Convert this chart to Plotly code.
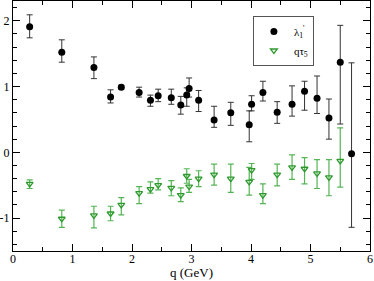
import plotly.graph_objects as go

# q values (GeV)
q_lam = [0.28, 0.82, 1.36, 1.64, 1.82, 2.12, 2.31, 2.44, 2.66, 2.82, 2.92, 2.96, 3.12,
         3.38, 3.66, 3.97, 4.01, 4.20, 4.44, 4.69, 4.90, 5.11, 5.31, 5.50, 5.69]
lam_val = [1.91, 1.52, 1.29, 0.84, 0.99, 0.91, 0.79, 0.86, 0.83, 0.72, 0.87, 0.97, 0.79,
           0.49, 0.60, 0.42, 0.73, 0.91, 0.61, 0.73, 0.93, 0.82, 0.52, 1.37, -0.02]
lam_hi = [2.09, 1.71, 1.45, 0.95, 1.02, 0.99, 0.87, 0.96, 0.96, 0.85, 0.98, 1.13, 0.94,
          0.70, 0.76, 0.63, 0.86, 1.08, 0.77, 1.01, 1.08, 1.16, 0.81, 1.93, 1.36]
lam_lo = [1.74, 1.37, 1.12, 0.75, 0.96, 0.84, 0.70, 0.77, 0.73, 0.58, 0.70, 0.84, 0.62,
          0.38, 0.41, 0.16, 0.63, 0.78, 0.44, 0.55, 0.64, 0.59, 0.20, 0.43, -1.14]

q_tau = [0.28, 0.82, 1.36, 1.64, 1.82, 2.12, 2.31, 2.44, 2.66, 2.82, 2.92, 2.96, 3.12,
         3.38, 3.66, 3.97, 4.01, 4.20, 4.44, 4.69, 4.90, 5.11, 5.31, 5.50]
tau_val = [-0.48, -1.01, -0.96, -0.93, -0.80, -0.62, -0.56, -0.50, -0.54, -0.65, -0.36, -0.52,
           -0.40, -0.34, -0.40, -0.45, -0.27, -0.65, -0.34, -0.23, -0.25, -0.32, -0.38, -0.13]
tau_hi = [-0.42, -0.88, -0.82, -0.82, -0.69, -0.52, -0.45, -0.40, -0.43, -0.54, -0.25, -0.41,
          -0.28, -0.18, -0.18, -0.23, -0.17, -0.48, -0.18, -0.04, -0.08, -0.11, -0.11, 0.37]
tau_lo = [-0.55, -1.14, -1.15, -1.04, -0.95, -0.78, -0.62, -0.57, -0.66, -0.75, -0.47, -0.61,
          -0.52, -0.50, -0.61, -0.65, -0.41, -0.78, -0.51, -0.41, -0.48, -0.55, -0.66, -0.53]

x_ticks = [0, 1, 2, 3, 4, 5, 6]
y_ticks = [-1, 0, 1, 2]
y_ticktext = ["-1", "0", "1", "2"]

FONT = "Liberation Serif"

fig = go.Figure()
fig.add_trace(go.Scatter(
    x=q_lam, y=lam_val, mode="markers", name="λ<sub>1</sub><sup>'</sup>",
    marker=dict(symbol="circle", size=7, color="black"),
    error_y=dict(type="data", symmetric=False,
                 array=[h - v for h, v in zip(lam_hi, lam_val)],
                 arrayminus=[v - l for v, l in zip(lam_val, lam_lo)],
                 color="#333333", thickness=1, width=3),
))
fig.add_trace(go.Scatter(
    x=q_tau, y=tau_val, mode="markers", name="qτ<sub>5</sub>",
    marker=dict(symbol="triangle-down-open", size=6, color="#2e9a2e",
                line=dict(width=1.3)),
    error_y=dict(type="data", symmetric=False,
                 array=[h - v for h, v in zip(tau_hi, tau_val)],
                 arrayminus=[v - l for v, l in zip(tau_val, tau_lo)],
                 color="#55b555", thickness=1.2, width=3),
))

axis_common = dict(
    showline=True, linecolor="black", linewidth=1, mirror="allticks",
    ticks="inside", ticklen=7, tickcolor="black", tickwidth=1,
    showgrid=False, zeroline=False, automargin=False,
    tickfont=dict(family=FONT, size=12, color="black"),
)

fig.update_xaxes(range=[0, 6], tickvals=x_ticks, ticklabelstandoff=-3,
                 minor=dict(ticks="inside", ticklen=4, dtick=0.5, tickcolor="black", showgrid=False),
                 **axis_common)
fig.update_yaxes(range=[-1.5, 2.3], tickvals=y_ticks, ticktext=y_ticktext,
                 minor=dict(ticks="inside", ticklen=4, dtick=0.2, tick0=0, tickcolor="black", showgrid=False),
                 **axis_common)

fig.add_annotation(text="q (GeV)", xref="paper", yref="paper", x=0.5, y=0,
                   yshift=-21, showarrow=False, xanchor="center", yanchor="middle",
                   font=dict(family=FONT, size=13, color="black"))

fig.update_layout(
    width=374, height=281,
    margin=dict(l=13, r=4, t=1, b=30, autoexpand=False),
    paper_bgcolor="white", plot_bgcolor="white",
    font=dict(family=FONT, size=12, color="black"),
    showlegend=True,
    legend=dict(x=0.672, y=0.94, xanchor="left", yanchor="top",
                bordercolor="#555555", borderwidth=1, bgcolor="white",
                font=dict(family=FONT, size=11, color="black"),
                itemwidth=30, tracegroupgap=0),
)

fig.write_html("out.html", config={"displayModeBar": False},
               post_script="document.body.style.margin='0';document.body.style.overflow='hidden';")
